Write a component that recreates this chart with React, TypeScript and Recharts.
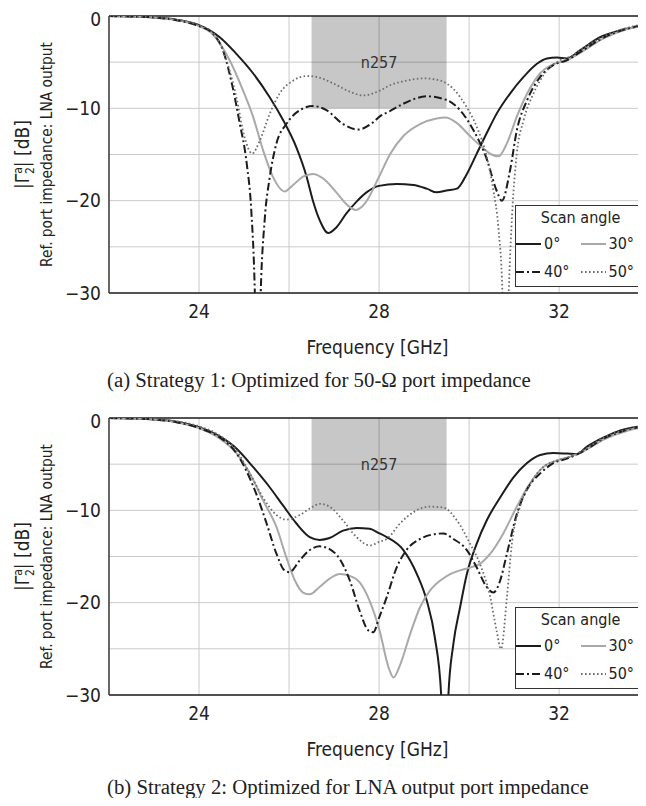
import React from 'react';
import {
  LineChart,
  Line,
  XAxis,
  YAxis,
  CartesianGrid,
  ReferenceArea,
  ReferenceLine,
  Legend,
} from 'recharts';

type Pt = [number, number]; // [frequency GHz, |Γ| dB]

// Strategy 1: optimized for 50-ohm port impedance
const s1Deg0: Pt[] = [
  [22, 0], [22.5, -0.05], [23, -0.15], [23.5, -0.4], [24, -1.0], [24.46, -2.3], [24.83, -4.1],
  [25.2, -6.2], [25.57, -8.8], [25.87, -11.3], [26.16, -14.2], [26.39, -17.4], [26.53, -20],
  [26.68, -22.1], [26.87, -23.5], [27.05, -22.9], [27.27, -21.4], [27.5, -20.1], [27.72, -19.1],
  [28.0, -18.4], [28.39, -18.2], [28.76, -18.3], [29.06, -18.7], [29.28, -19.1], [29.5, -18.9],
  [29.73, -18.7], [29.95, -17.1], [30.17, -14.9], [30.39, -12.7], [30.61, -10.6], [30.91, -8.4],
  [31.21, -6.6], [31.5, -5.2], [31.73, -4.6], [31.95, -4.5], [32.17, -4.6], [32.47, -3.7],
  [32.91, -2.3], [33.36, -1.55], [34, -0.95],
];
const s1Deg30: Pt[] = [
  [22, 0], [22.5, -0.05], [23, -0.15], [23.5, -0.45], [24, -1.1], [24.31, -2.0], [24.68, -4.8],
  [24.98, -8.1], [25.2, -10.9], [25.42, -14.5], [25.64, -17.4], [25.9, -19.0], [26.09, -18.3],
  [26.31, -17.4], [26.53, -17.1], [26.76, -17.6], [27.05, -19.1], [27.3, -20.5], [27.48, -21.0],
  [27.7, -20.2], [28.0, -17.4], [28.24, -15.0], [28.54, -13.0], [28.91, -11.7], [29.28, -11.1],
  [29.47, -11.0], [29.73, -11.6], [30.02, -13.0], [30.31, -14.3], [30.5, -15.0], [30.65, -15.2],
  [30.84, -13.8], [31.06, -10.9], [31.29, -8.4], [31.58, -6.2], [31.88, -5.2], [32.17, -4.8],
  [32.5, -3.9], [33, -2.4], [33.5, -1.45], [34, -0.95],
];
const s1Deg40: Pt[] = [
  [22, 0], [22.5, -0.05], [23, -0.15], [23.5, -0.45], [24, -1.1], [24.31, -1.9], [24.53, -3.7],
  [24.76, -8.0], [24.9, -11.5], [25.06, -16.0], [25.16, -21], [25.24, -30], [25.3, -45],
  [25.37, -30], [25.46, -22.0], [25.57, -17.5], [25.72, -13.8], [25.94, -11.7], [26.24, -10.2],
  [26.53, -9.75], [26.83, -10.2], [27.2, -11.7], [27.53, -12.3], [27.87, -11.5], [28.01, -10.9],
  [28.24, -10.3], [28.54, -9.5], [29.06, -8.7], [29.5, -9.1], [29.8, -10.2], [30.1, -12.4],
  [30.4, -15.6], [30.61, -18.9], [30.73, -20.0], [30.91, -16.7], [31.06, -12.4], [31.29, -9.1],
  [31.58, -6.6], [31.88, -5.3], [32.17, -4.8], [32.5, -3.8], [33, -2.3], [33.5, -1.4], [34, -0.85],
];
const s1Deg50: Pt[] = [
  [22, 0], [22.5, -0.05], [23, -0.15], [23.5, -0.4], [24, -1.0], [24.31, -1.8], [24.61, -4.8],
  [24.83, -8.8], [25.01, -13.1], [25.18, -14.9], [25.35, -13.5], [25.57, -10.6], [25.79, -8.4],
  [26.09, -7.0], [26.39, -6.5], [26.61, -6.6], [26.98, -7.3], [27.35, -8.2], [27.64, -8.6],
  [28.01, -8.1], [28.24, -7.5], [28.61, -7.0], [28.99, -6.75], [29.36, -7.0], [29.65, -7.9],
  [29.95, -9.9], [30.17, -12.0], [30.39, -15.2], [30.54, -18.9], [30.65, -22.9], [30.74, -30],
  [30.8, -45], [30.88, -30], [30.94, -22.9], [31.06, -14.9], [31.21, -11.3], [31.43, -8.4],
  [31.73, -5.9], [32.02, -4.8], [32.24, -4.4], [32.5, -3.6], [33, -2.2], [33.5, -1.3], [34, -0.8],
];

// Strategy 2: optimized for LNA output port impedance
const s2Deg0: Pt[] = [
  [22, 0], [22.5, -0.05], [23, -0.15], [23.5, -0.4], [24, -1.0], [24.46, -2.0], [24.83, -3.3],
  [25.2, -5.3], [25.57, -7.5], [25.87, -9.5], [26.16, -11.4], [26.46, -12.9], [26.68, -13.2],
  [26.9, -13.0], [27.2, -12.2], [27.5, -11.9], [27.79, -12.0], [28.01, -12.5], [28.17, -12.9],
  [28.54, -14.3], [28.84, -16.9], [29.06, -19.8], [29.24, -23.8], [29.38, -30], [29.46, -45],
  [29.54, -30], [29.65, -24.5], [29.8, -20.5], [29.95, -16.9], [30.17, -13.6], [30.39, -11.1],
  [30.69, -8.6], [30.99, -6.4], [31.28, -4.9], [31.58, -4.0], [31.87, -3.8], [32.17, -3.85],
  [32.4, -3.9], [32.62, -3.1], [32.99, -2.1], [33.36, -1.35], [34, -0.8],
];
const s2Deg30: Pt[] = [
  [22, 0], [22.5, -0.05], [23, -0.15], [23.5, -0.45], [24, -1.1], [24.46, -2.2], [24.83, -3.8],
  [25.13, -6.0], [25.42, -8.9], [25.72, -11.8], [25.94, -15.1], [26.13, -17.6], [26.31, -18.9],
  [26.46, -19.1], [26.68, -18.3], [26.9, -17.4], [27.13, -16.9], [27.35, -17.1], [27.57, -17.8],
  [27.79, -19.8], [28.01, -23.0], [28.21, -27.0], [28.32, -28.1], [28.47, -26.7], [28.69, -23.4],
  [28.91, -20.5], [29.13, -18.7], [29.36, -17.6], [29.58, -16.9], [29.8, -16.5], [30.02, -16.2],
  [30.24, -15.8], [30.47, -14.7], [30.76, -12.5], [31.06, -9.6], [31.35, -7.1], [31.65, -5.3],
  [31.95, -4.6], [32.24, -4.2], [32.5, -3.7], [33, -2.3], [33.5, -1.4], [34, -0.9],
];
const s2Deg40: Pt[] = [
  [22, 0], [22.5, -0.05], [23, -0.15], [23.5, -0.45], [24, -1.1], [24.46, -2.1], [24.83, -3.8],
  [25.05, -5.7], [25.27, -8.2], [25.5, -11.4], [25.72, -14.7], [25.9, -16.5], [26.01, -16.7],
  [26.24, -15.4], [26.46, -14.3], [26.68, -13.9], [26.9, -14.2], [27.13, -15.3], [27.35, -17.6],
  [27.57, -20.9], [27.76, -23.0], [27.87, -23.2], [28.01, -21.5], [28.17, -19.4], [28.39, -16.2],
  [28.61, -14.3], [28.91, -13.1], [29.21, -12.6], [29.43, -12.5], [29.65, -13.1], [29.95, -14.3],
  [30.17, -16.2], [30.39, -18.3], [30.54, -18.9], [30.69, -17.6], [30.84, -14.7], [31.06, -10.4],
  [31.28, -7.8], [31.58, -6.0], [31.87, -4.9], [32.17, -4.4], [32.5, -3.7], [33, -2.2], [33.5, -1.3],
  [34, -0.8],
];
const s2Deg50: Pt[] = [
  [22, 0], [22.5, -0.05], [23, -0.15], [23.5, -0.35], [24, -0.9], [24.46, -1.9], [24.83, -3.5],
  [25.13, -6.0], [25.42, -8.6], [25.72, -10.5], [25.94, -11.0], [26.24, -10.5], [26.53, -9.6],
  [26.68, -9.3], [26.9, -9.6], [27.2, -11.1], [27.5, -12.9], [27.79, -13.8], [28.01, -13.4],
  [28.17, -13.1], [28.47, -11.4], [28.76, -10.2], [29.13, -9.6], [29.43, -9.7], [29.73, -11.1],
  [30.02, -13.6], [30.24, -15.8], [30.47, -19.4], [30.61, -23.0], [30.71, -25.0], [30.84, -19.4],
  [30.95, -13.6], [31.13, -9.6], [31.36, -7.1], [31.65, -5.3], [31.95, -4.6], [32.24, -4.2],
  [32.5, -3.6], [33, -2.1], [33.5, -1.25], [34, -0.75],
];

const angles = ['0°', '30°', '40°', '50°'];
const xTicks = [24, 26, 28, 30, 32];
const xLabelTicks = [24, 28, 32];
const yTicks = [-30, -25, -20, -15, -10, -5, 0];
const bandName = 'n257';
const bandRange: [number, number] = [26.5, 29.5];
const captions = [
  '(a) Strategy 1: Optimized for 50-Ω port impedance',
  '(b) Strategy 2: Optimized for LNA output port impedance',
];

const FONT = '"DejaVu Sans Condensed", "DejaVu Sans", sans-serif';

// line look per scan angle (same order as angles)
const styles = [
  { stroke: '#1c1c1c', dash: undefined as string | undefined, width: 2 },
  { stroke: '#a9a9a9', dash: undefined as string | undefined, width: 2 },
  { stroke: '#1c1c1c', dash: '8 3 2 3', width: 2 },
  { stroke: '#6e6e6e', dash: '1.6 2.4', width: 1.8 },
];

const toRows = (pts: Pt[]) => pts.map(([f, db]) => ({ f, db }));

const fmtDb = (v: number) => (v % 10 === 0 ? (v < 0 ? '\u2212' + Math.abs(v) : String(v)) : '');
const fmtF = (v: number) => (xLabelTicks.includes(v) ? String(v) : '');

const YTitle = (props: any) => {
  const vb = props.viewBox || { x: 0, y: 8, width: 101, height: 277 };
  const cy = vb.y + vb.height / 2;
  return (
    <g fill="#222" fontFamily={FONT}>
      <text transform={`translate(21,${cy}) rotate(-90)`} textAnchor="middle" fontSize={19}>
        |Γ
        <tspan fontSize={12} dy={-7}>a</tspan>
        <tspan fontSize={12} dx={-7} dy={12}>2</tspan>
        <tspan dy={-5}>| [dB]</tspan>
      </text>
      <text transform={`translate(44,${cy}) rotate(-90)`} textAnchor="middle" fontSize={15.3}>
        Ref. port impedance: LNA output
      </text>
    </g>
  );
};

const Sample = ({ i }: { i: number }) => (
  <svg width={25} height={10} style={{ marginRight: 3 }}>
    <line x1={0} y1={5} x2={25} y2={5} stroke={styles[i].stroke} strokeWidth={styles[i].width}
      strokeDasharray={styles[i].dash} />
  </svg>
);

const LegendBox = () => (
  <div style={{
    boxSizing: 'border-box', width: 131, height: 82, border: '1px solid #333', background: '#fff',
    fontFamily: FONT, fontSize: 16, color: '#222',
  }}>
    <div style={{ textAlign: 'center', lineHeight: '24px' }}>Scan angle</div>
    {[[0, 1], [2, 3]].map((row, r) => (
      <div key={r} style={{ display: 'flex', lineHeight: '28px', height: 28 }}>
        {row.map((i) => (
          <div key={i} style={{ width: 65, display: 'flex', alignItems: 'center' }}>
            <Sample i={i} />
            <span>{angles[i]}</span>
          </div>
        ))}
      </div>
    ))}
  </div>
);

const Panel = ({ series }: { series: Pt[][] }) => (
  <LineChart width={638} height={360} margin={{ top: 8, right: 0, left: 0, bottom: 0 }}>
    <CartesianGrid stroke="#cacaca" strokeWidth={1} />
    <ReferenceArea x1={bandRange[0]} x2={bandRange[1]} y1={-10} y2={0} fill="#000" fillOpacity={0.22}
      stroke="none" ifOverflow="hidden"
      label={{ value: bandName, position: 'center', fontSize: 16, fill: '#333', fontFamily: FONT }} />
    <XAxis dataKey="f" type="number" domain={[22, 33.93]} allowDataOverflow ticks={xTicks}
      tickFormatter={fmtF} tickLine={false} tickMargin={6} height={75} stroke="#222" strokeWidth={1.3}
      tick={{ fontSize: 19, fill: '#222', fontFamily: FONT }}
      label={{ value: 'Frequency [GHz]', position: 'insideBottom', offset: 14, fontSize: 19, fill: '#222', fontFamily: FONT }} />
    <YAxis type="number" domain={[-30, 0]} allowDataOverflow ticks={yTicks} tickFormatter={fmtDb}
      tickLine={false} width={101} stroke="#222" strokeWidth={1.3}
      tick={{ fontSize: 19, fill: '#222', fontFamily: FONT }} label={<YTitle />} />
    <ReferenceLine y={0} stroke="#222" strokeWidth={1.3} />
    {series.map((pts, i) => (
      <Line key={angles[i]} data={toRows(pts)} dataKey="db" name={angles[i]} type="monotone"
        stroke={styles[i].stroke} strokeWidth={styles[i].width} strokeDasharray={styles[i].dash}
        dot={false} activeDot={false} isAnimationActive={false} />
    ))}
    <Legend layout="horizontal" verticalAlign="middle" align="center" content={() => <LegendBox />}
      wrapperStyle={{ left: 507, top: 197, width: 131, height: 82 }} />
  </LineChart>
);

const captionStyle: React.CSSProperties = {
  fontFamily: '"Liberation Serif", "Times New Roman", serif',
  fontSize: 20.8,
  lineHeight: '24px',
  color: '#222',
  width: 638,
  boxSizing: 'border-box',
  paddingLeft: 99,
  whiteSpace: 'nowrap',
};

export default function App() {
  return (
    <div style={{ width: 638, height: 790 }}>
      <Panel series={[s1Deg0, s1Deg30, s1Deg40, s1Deg50]} />
      <div style={{ ...captionStyle, height: 42 }}>{captions[0]}</div>
      <Panel series={[s2Deg0, s2Deg30, s2Deg40, s2Deg50]} />
      <div style={{ ...captionStyle, height: 28, paddingTop: 5 }}>{captions[1]}</div>
    </div>
  );
}
